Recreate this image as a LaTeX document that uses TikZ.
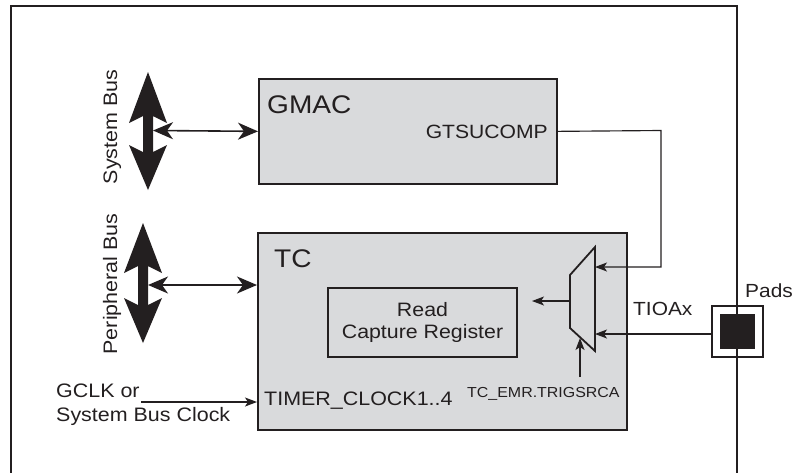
\documentclass[tikz,border=0pt]{standalone}
\usepackage{fontspec}
\setmainfont{Liberation Sans}
\newfontfamily\wsans[FakeStretch=1.1]{Liberation Sans}
\usetikzlibrary{arrows.meta}
\definecolor{boxgray}{RGB}{217,218,220}
\definecolor{ink}{RGB}{35,31,32}
\newcommand{\fsz}[1]{\wsans\fontsize{#1}{1.25\dimexpr #1pt\relax}\selectfont}
\begin{document}
\begin{tikzpicture}[x=1pt,y=-1pt,
  block/.style={draw=ink, line width=1.7pt, fill=boxgray, inner sep=0pt, anchor=north west},
  regbox/.style={draw=ink, line width=1.1pt, fill=boxgray, inner sep=0pt, align=center, text=ink},
  thinline/.style={draw=ink, line width=1.15pt},
  smalltip/.style={-{Stealth[length=12pt,width=9pt,inset=3pt]}},
  bustip/.style={{Stealth[length=20pt,width=17pt,inset=6pt]}-{Stealth[length=20pt,width=17pt,inset=6pt]}},
  lbl/.style={inner sep=0pt, text=ink},
  bigarrow/.style={fill=ink, draw=none}
]
\useasboundingbox (0,0) rectangle (795,472);
\clip (0,0) rectangle (795,472);

% blocks
\node[block, minimum width=298pt, minimum height=105pt] (gmac) at (258,78) {};
\node[block, minimum width=369pt, minimum height=197pt] (tc) at (257,232) {};
\node[regbox, minimum width=189pt, minimum height=69pt, font=\fsz{19.4}] (reg) at (422.5,322.5) {Read\\[-2pt]Capture Register};

% labels
\node[lbl, anchor=base west, font=\fsz{25.5}] (gmaclbl) at (267,113) {GMAC};
\node[lbl, anchor=base east, font=\fsz{19.2}] (gtslbl) at (548,138) {GTSUCOMP};
\node[lbl, anchor=base west, font=\fsz{25.5}] (tclbl) at (274,267) {TC};
\node[lbl, anchor=base west, font=\fsz{19.5}] (timerlbl) at (264,405) {TIMER\_CLOCK1..4};
\node[lbl, anchor=base west, font=\fsz{14.5}] (trglbl) at (467,397) {TC\_EMR.TRIGSRCA};
\node[lbl, anchor=base west, font=\fsz{19}] (tioalbl) at (633,315) {TIOAx};
\node[lbl, anchor=base west, font=\fsz{19}] (padslbl) at (745,297) {Pads};
\node[lbl, anchor=base west, font=\fsz{19.5}] (gclk1) at (56,397) {GCLK or};
\node[lbl, anchor=base west, font=\fsz{19.5}] (gclk2) at (56,421) {System Bus Clock};
\node[lbl, anchor=base, rotate=90, font=\fsz{19.5}] (sbuslbl) at (117,127) {System Bus};
\node[lbl, anchor=base, rotate=90, font=\fsz{19.5}] (pbuslbl) at (117,284) {Peripheral Bus};

% multiplexer
\coordinate (m1) at (570,275);
\coordinate (m2) at (595,247);
\coordinate (m3) at (595,351);
\coordinate (m4) at (570,328);
\draw[draw=ink, line width=1.8pt, fill=boxgray, line join=miter] (m1) -- (m2) -- (m3) -- (m4) -- cycle;

% big bus arrows
\path[bigarrow] (148,72) -- (167,123) -- (153,116) -- (153,152) -- (167,145) -- (148,190)
  -- (129,145) -- (143,152) -- (143,116) -- (129,123) -- cycle;
\path[bigarrow] (143,223) -- (162,273) -- (148,266) -- (148,305) -- (162,298) -- (143,343)
  -- (124,298) -- (138,305) -- (138,266) -- (124,273) -- cycle;
\coordinate (sbr) at (153,130.5);
\coordinate (pbr) at (148,285);
\draw[draw=ink, line width=1.6pt, bustip] (sbr) -- (gmac.west);
\draw[draw=ink, line width=1.6pt, bustip] (pbr) -- (tc.west |- pbr);

% clock input
\coordinate (clkstart) at (141,402);
\draw[thinline, smalltip] (clkstart) -- (tc.west |- clkstart);

% GTSUCOMP to mux
\coordinate (bend) at (661,130.5);
\coordinate (muxin1) at (595,267);
\draw[thinline, smalltip] (gmac.east) -- (bend) |- (muxin1);

% mux output
\coordinate (muxout) at (570,301);
\coordinate (muxoutend) at (532,301);
\draw[thinline, smalltip] (muxout) -- (muxoutend);

% select
\coordinate (selstart) at (580,377);
\coordinate (selend) at (580,338);
\draw[thinline, smalltip] (selstart) -- (selend);

% pad
\node[draw=ink, line width=1.8pt, fill=white, minimum size=51pt, inner sep=0pt] (pad) at (737.5,331.5) {};
\node[fill=ink, minimum size=35pt, inner sep=0pt] (padcore) at (pad.center) {};
\coordinate (padl) at (712,334);
\coordinate (muxin2) at (595,334);
\draw[thinline, smalltip] (padl) -- (muxin2);

% outer frame
\draw[draw=ink, line width=2pt] (11,480) -- (11,6) -- (737,6) -- (737,480);
\end{tikzpicture}
\end{document}
